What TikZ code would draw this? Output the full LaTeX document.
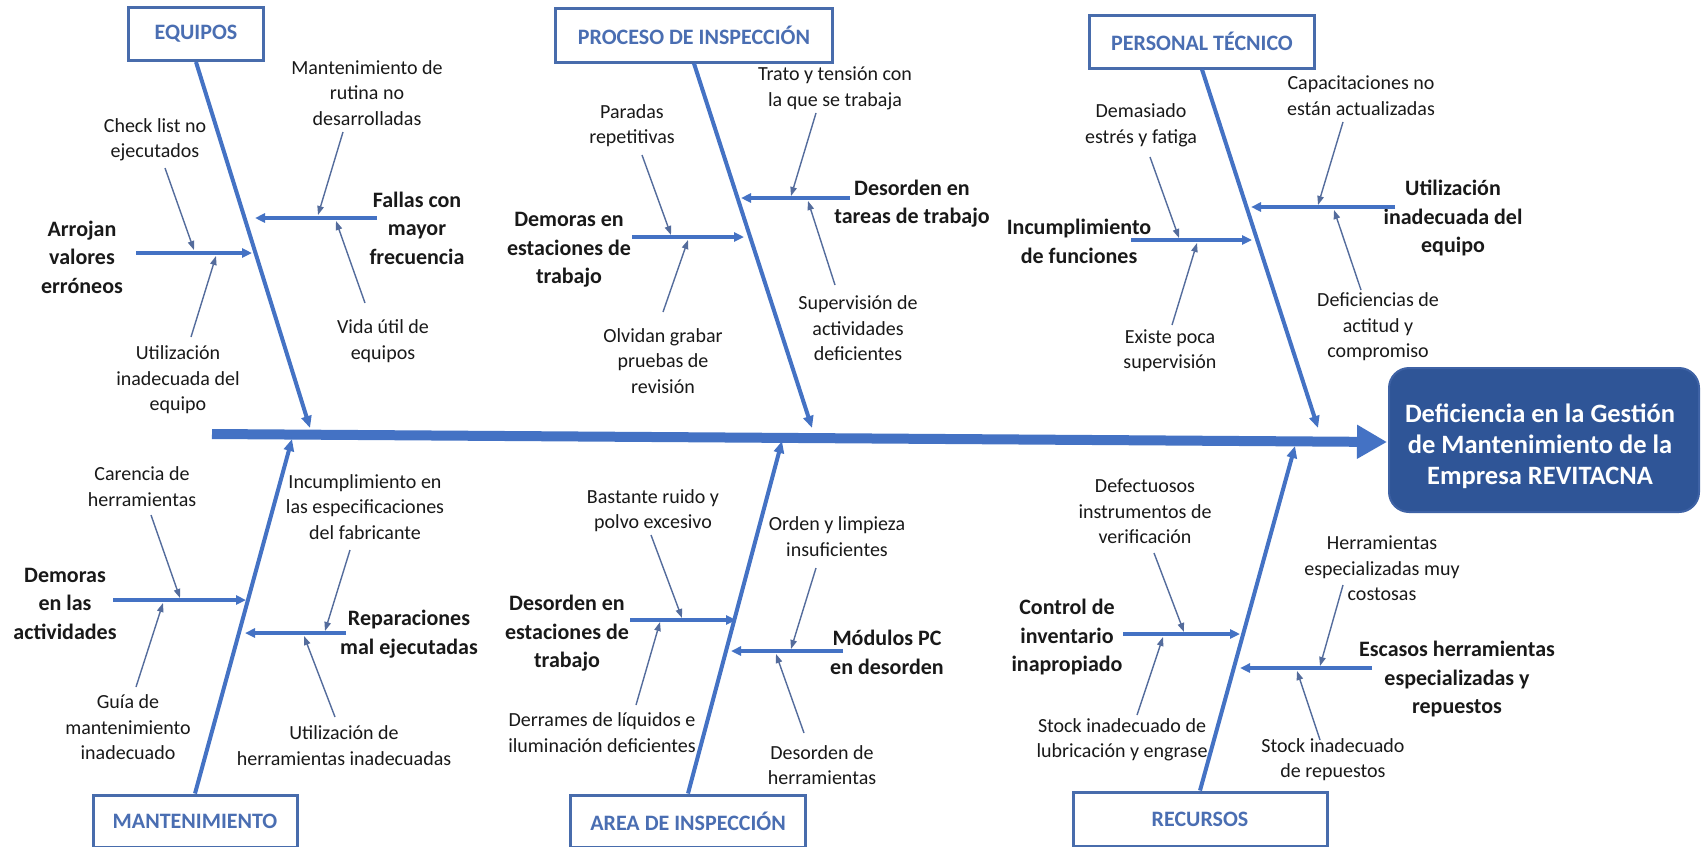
\documentclass[tikz,border=0pt]{standalone}
\usepackage{fontspec}
\setmainfont{Carlito}
\usetikzlibrary{arrows.meta}
\definecolor{boneblue}{RGB}{68,114,196}
\definecolor{catline}{RGB}{72,108,172}
\definecolor{cattext}{RGB}{74,110,178}
\definecolor{thinblue}{RGB}{84,108,156}
\definecolor{resfill}{RGB}{47,85,151}
\definecolor{resline}{RGB}{62,98,165}
\definecolor{labeltext}{RGB}{25,25,25}
\tikzset{
  cat/.style={draw=catline, line width=1.5pt, fill=white, text=cattext,
    font=\bfseries\fontsize{11}{13}\selectfont, minimum height=26.5pt, inner sep=0pt},
  small/.style={align=center, text=labeltext, font=\fontsize{10}{12.75}\selectfont, inner sep=1pt},
  big/.style={align=center, text=labeltext, font=\bfseries\fontsize{11}{14.25}\selectfont, inner sep=1pt},
  spine/.style={draw=boneblue, line width=5pt, -{Triangle[length=15pt,width=16pt]}},
  bone/.style={draw=boneblue, line width=2pt, -{Triangle[length=6pt,width=5pt]}},
  branch/.style={draw=boneblue, line width=1.6pt, -{Triangle[length=5pt,width=4.5pt]}},
  cause/.style={draw=thinblue, line width=0.7pt, -{Triangle[length=4.5pt,width=3.2pt]}},
}
\begin{document}
\begin{tikzpicture}[x=0.5pt,y=-0.5pt]
\useasboundingbox (0,0) rectangle (1701,846);
\fill[white] (0,0) rectangle (1701,846);

% ---------- effect ----------
\node[draw=resline, line width=1pt, fill=resfill, rounded corners=10pt,
      minimum width=155pt, minimum height=72pt] (resbox) at (1544,440) {};
\node[align=center, text=white, font=\bfseries\fontsize{13.25}{15.5}\selectfont] (res) at (1540,446)
  {Deficiencia en la Gestión\\de Mantenimiento de la\\Empresa REVITACNA};

% ---------- spine ----------
\coordinate (sp0) at (212,434);
\coordinate (sp1) at (1387,442);
\draw[spine] (sp0) -- (sp1);

% ---------- category boxes ----------
\node[cat, minimum width=67.5pt] (eq) at (196,34) {EQUIPOS};
\node[cat, minimum width=138.5pt, minimum height=27pt] (pr) at (694,35) {PROCESO DE INSPECCIÓN};
\node[cat, minimum width=112.5pt] (pe) at (1202,41.5) {PERSONAL TÉCNICO};
\node[cat, minimum width=102pt, minimum height=26pt] (ma) at (195,821) {MANTENIMIENTO};
\node[cat, minimum width=117.5pt, minimum height=26pt] (ar) at (688,821) {AREA DE INSPECCIÓN};
\node[cat, minimum width=127pt, minimum height=27pt] (re) at (1200,819) {RECURSOS};

% ---------- main bones ----------
\coordinate (eqtip) at (310,428);
\coordinate (prtip) at (812,428);
\coordinate (petip) at (1318,428);
\coordinate (matip) at (292,439);
\coordinate (artip) at (782,441);
\coordinate (retip) at (1295,446);
\draw[bone] (eq.south) -- (eqtip);
\draw[bone] (pr.south) -- (prtip);
\draw[bone] (pe.south) -- (petip);
\draw[bone] (ma.north) -- (matip);
\draw[bone] (ar.north) -- (artip);
\draw[bone] (re.north) -- (retip);

% ================= EQUIPOS =================
\node[big] (arrojan) at (82,257) {Arrojan\\valores\\erróneos};
\node[big] (fallas) at (417,228) {Fallas con\\mayor\\frecuencia};
\coordinate (arr0) at (136,253); \coordinate (arr1) at (252,253);
\coordinate (fal0) at (377,218); \coordinate (fal1) at (255,218);
\draw[branch] (arr0) -- (arr1);
\draw[branch] (fal0) -- (fal1);

\node[small] (check) at (155,140) {Check list no\\ejecutados};
\node[small] (utileq) at (178,380) {Utilización\\inadecuada del\\equipo};
\node[small] (mantrut) at (367,93) {Mantenimiento de\\rutina no\\desarrolladas};
\node[small] (vida) at (383,341) {Vida útil de\\equipos};
\coordinate (c1a) at (165,168); \coordinate (c1b) at (194,250);
\coordinate (c2a) at (191,337); \coordinate (c2b) at (216,256);
\coordinate (c3a) at (343,132); \coordinate (c3b) at (318,215);
\coordinate (c4a) at (365,303); \coordinate (c4b) at (336,221);
\draw[cause] (c1a) -- (c1b);
\draw[cause] (c2a) -- (c2b);
\draw[cause] (c3a) -- (c3b);
\draw[cause] (c4a) -- (c4b);

% ================= PROCESO DE INSPECCION =================
\node[big] (demest) at (569,250) {Demoras en\\estaciones de\\trabajo};
\node[big] (destar) at (912,203.5) {Desorden en\\tareas de trabajo};
\coordinate (dem0) at (632,237); \coordinate (dem1) at (744,237);
\coordinate (dta0) at (850,198); \coordinate (dta1) at (741,198);
\draw[branch] (dem0) -- (dem1);
\draw[branch] (dta0) -- (dta1);

\node[small] (paradas) at (632,125.5) {Paradas\\repetitivas};
\node[small] (olvidan) at (663,361) {Olvidan grabar\\pruebas de\\revisión};
\node[small] (trato) at (835,88.5) {Trato y tensión con\\la que se trabaja};
\node[small] (superv) at (858,328.5) {Supervisión de\\actividades\\deficientes};
\coordinate (c5a) at (642,155); \coordinate (c5b) at (671,235);
\coordinate (c6a) at (663,312); \coordinate (c6b) at (688,240);
\coordinate (c7a) at (816,113); \coordinate (c7b) at (791,196);
\coordinate (c8a) at (835,285); \coordinate (c8b) at (808,201);
\draw[cause] (c5a) -- (c5b);
\draw[cause] (c6a) -- (c6b);
\draw[cause] (c7a) -- (c7b);
\draw[cause] (c8a) -- (c8b);

% ================= PERSONAL TECNICO =================
\node[big] (incfun) at (1079,241.5) {Incumplimiento\\de funciones};
\node[big] (utilper) at (1453,218) {Utilización\\inadecuada del\\equipo};
\coordinate (inc0) at (1131,240); \coordinate (inc1) at (1252,240);
\coordinate (utp0) at (1395,207); \coordinate (utp1) at (1251,207);
\draw[branch] (inc0) -- (inc1);
\draw[branch] (utp0) -- (utp1);

\node[small] (estres) at (1141,125.5) {Demasiado\\estrés y fatiga};
\node[small] (existe) at (1170,350.5) {Existe poca\\supervisión};
\node[small] (capac) at (1361,95.5) {Capacitaciones no\\están actualizadas};
\node[small] (actit) at (1378,327) {Deficiencias de\\actitud y\\compromiso};
\coordinate (c9a) at (1150,157); \coordinate (c9b) at (1179,238);
\coordinate (c10a) at (1172,325); \coordinate (c10b) at (1197,243);
\coordinate (c11a) at (1343,122); \coordinate (c11b) at (1318,205);
\coordinate (c12a) at (1361,290); \coordinate (c12b) at (1334,210);
\draw[cause] (c9a) -- (c9b);
\draw[cause] (c10a) -- (c10b);
\draw[cause] (c11a) -- (c11b);
\draw[cause] (c12a) -- (c12b);

% ================= MANTENIMIENTO =================
\node[big] (demact) at (65,603.5) {Demoras\\en las\\actividades};
\node[big] (repar) at (409,634) {Reparaciones\\mal ejecutadas};
\coordinate (dac0) at (113,600); \coordinate (dac1) at (246,600);
\coordinate (rep0) at (346,633); \coordinate (rep1) at (245,633);
\draw[branch] (dac0) -- (dac1);
\draw[branch] (rep0) -- (rep1);

\node[small] (carencia) at (142,486.5) {Carencia de\\herramientas};
\node[small] (guia) at (128,727.5) {Guía de\\mantenimiento\\inadecuado};
\node[small] (incesp) at (365,507) {Incumplimiento en\\las especificaciones\\del fabricante};
\node[small] (utilherr) at (344,745.5) {Utilización de\\herramientas inadecuadas};
\coordinate (c13a) at (151,515); \coordinate (c13b) at (180,598);
\coordinate (c14a) at (136,687); \coordinate (c14b) at (163,603);
\coordinate (c15a) at (350,550); \coordinate (c15b) at (325,631);
\coordinate (c16a) at (335,717); \coordinate (c16b) at (304,636);
\draw[cause] (c13a) -- (c13b);
\draw[cause] (c14a) -- (c14b);
\draw[cause] (c15a) -- (c15b);
\draw[cause] (c16a) -- (c16b);

% ================= AREA DE INSPECCION =================
\node[big] (desest) at (567,633.5) {Desorden en\\estaciones de\\trabajo};
\node[big] (modulos) at (887,652.5) {Módulos PC\\en desorden};
\coordinate (des0) at (630,620); \coordinate (des1) at (736,620);
\coordinate (mod0) at (843,651); \coordinate (mod1) at (731,651);
\draw[branch] (des0) -- (des1);
\draw[branch] (mod0) -- (mod1);

\node[small] (ruido) at (653,510.5) {Bastante ruido y\\polvo excesivo};
\node[small] (derrames) at (602,732.5) {Derrames de líquidos e\\iluminación deficientes};
\node[small] (orden) at (837,536.5) {Orden y limpieza\\insuficientes};
\node[small] (desherr) at (822,765) {Desorden de\\herramientas};
\coordinate (c17a) at (651,535); \coordinate (c17b) at (682,618);
\coordinate (c18a) at (636,705); \coordinate (c18b) at (660,622);
\coordinate (c19a) at (816,568); \coordinate (c19b) at (791,649);
\coordinate (c20a) at (804,733); \coordinate (c20b) at (776,654);
\draw[cause] (c17a) -- (c17b);
\draw[cause] (c18a) -- (c18b);
\draw[cause] (c19a) -- (c19b);
\draw[cause] (c20a) -- (c20b);

% ================= RECURSOS =================
\node[big] (control) at (1067,637.5) {Control de\\inventario\\inapropiado};
\node[big] (escasos) at (1457,679.5) {Escasos herramientas\\especializadas y\\repuestos};
\coordinate (con0) at (1123,634); \coordinate (con1) at (1240,634);
\coordinate (esc0) at (1372,668); \coordinate (esc1) at (1240,668);
\draw[branch] (con0) -- (con1);
\draw[branch] (esc0) -- (esc1);

\node[small] (defect) at (1145,511.5) {Defectuosos\\instrumentos de\\verificación};
\node[small] (stocklub) at (1122,740) {Stock inadecuado de\\lubricación y engrase};
\node[small] (herresp) at (1382,568.5) {Herramientas\\especializadas muy\\costosas};
\node[small] (stockrep) at (1333,759.5) {Stock inadecuado\\de repuestos};
\coordinate (c21a) at (1154,553); \coordinate (c21b) at (1184,632);
\coordinate (c22a) at (1137,715); \coordinate (c22b) at (1163,637);
\coordinate (c23a) at (1343,585); \coordinate (c23b) at (1320,666);
\coordinate (c24a) at (1320,740); \coordinate (c24b) at (1297,671);
\draw[cause] (c21a) -- (c21b);
\draw[cause] (c22a) -- (c22b);
\draw[cause] (c23a) -- (c23b);
\draw[cause] (c24a) -- (c24b);
\end{tikzpicture}
\end{document}
